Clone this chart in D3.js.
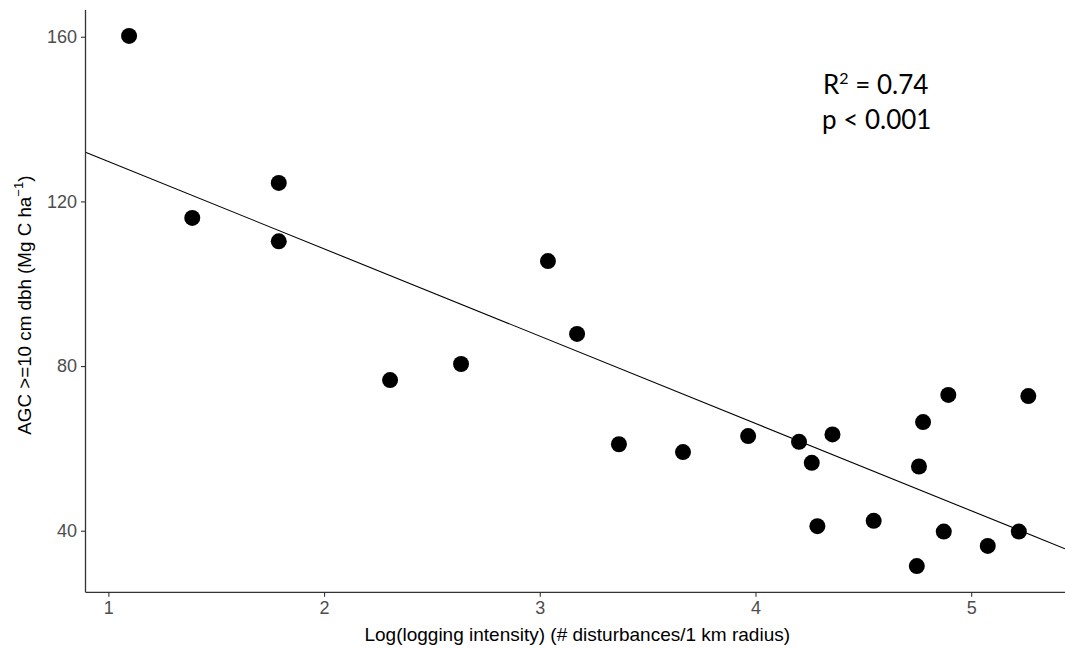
<!DOCTYPE html>
<html><head><meta charset="utf-8">
<script src="https://cdn.jsdelivr.net/npm/d3@7"></script>
<style>body{margin:0;background:#fff}svg{display:block}</style>
</head><body>
<svg id="c" width="1065" height="648"></svg>
<script>
const logIntensity = [1.096,1.389,1.790,1.790,2.306,2.635,3.038,3.173,3.367,3.664,3.966,4.202,4.261,4.287,4.357,4.548,4.748,4.758,4.777,4.873,4.894,5.077,5.221,5.265];
const agc = [160.2,116.0,124.5,110.3,76.6,80.5,105.5,87.8,61.0,59.1,63.0,61.6,56.5,41.1,63.4,42.4,31.4,55.6,66.4,39.8,73.0,36.3,39.8,72.7];
const fitIntercept = [150.9];
const fitSlope = [-21.21];
const xTicks = [1,2,3,4,5];
const yTicks = [40,80,120,160];
const annotation = ["R² = 0.74","p < 0.001"];

const W=1065,H=648, m={l:85.5,t:10,r:0,b:55.7};
const svg=d3.select("#c");
const x=d3.scaleLinear().domain([0.894,5.435]).range([m.l,W-m.r]);
const y=d3.scaleLinear().domain([25.04,166.5]).range([H-m.b,m.t]);

// regression line
const xd=x.domain();
svg.append("line")
 .attr("x1",x(xd[0])).attr("y1",y(fitIntercept[0]+fitSlope[0]*xd[0]))
 .attr("x2",x(xd[1])).attr("y2",y(fitIntercept[0]+fitSlope[0]*xd[1]))
 .attr("stroke","#000").attr("stroke-width",1.1);

// points
svg.append("g").selectAll("circle").data(logIntensity).join("circle")
 .attr("cx",d=>x(d)).attr("cy",(d,i)=>y(agc[i])).attr("r",8).attr("fill","#000");

// axes
const xa=svg.append("g").attr("transform",`translate(0,${H-m.b})`)
 .call(d3.axisBottom(x).tickValues(xTicks).tickSize(4.5).tickPadding(4).tickFormat(d3.format("d")));
const ya=svg.append("g").attr("transform",`translate(${m.l},0)`)
 .call(d3.axisLeft(y).tickValues(yTicks).tickSize(4.5).tickPadding(4).tickFormat(d3.format("d")));
[xa,ya].forEach(a=>{
 a.select(".domain").attr("stroke","#333").attr("stroke-width",1.3);
 a.selectAll(".tick line").attr("stroke","#333").attr("stroke-width",1.1);
 a.selectAll(".tick text").attr("fill","#4D4D4D").style("font-family","'Liberation Sans',Arial,sans-serif").style("font-size","18px");
});
xa.select(".domain").attr("d",`M${m.l},0H${W}`);
ya.select(".domain").attr("d",`M0,${m.t}V${H-m.b}`);

// axis titles
svg.append("text").attr("x",(m.l+W)/2+2).attr("y",641)
 .attr("text-anchor","middle").style("font-family","'Liberation Sans',Arial,sans-serif").style("font-size","19px").attr("fill","#000")
 .text("Log(logging intensity) (# disturbances/1 km radius)");
const yt=svg.append("text").attr("transform",`translate(31,${(m.t+H-m.b)/2+4}) rotate(-90)`)
 .attr("text-anchor","middle").style("font-family","'Liberation Sans',Arial,sans-serif").style("font-size","18.8px").attr("fill","#000");
yt.append("tspan").text("AGC >=10 cm dbh (Mg C ha");
yt.append("tspan").attr("dy",-8).style("font-size","13px").text("−1");
yt.append("tspan").attr("dy",8).text(")");

// annotation
const ann=svg.append("g").style("font-family","Lato,'Open Sans',sans-serif").style("font-size","26px").attr("fill","#000");
const t1=ann.append("text").attr("x",823).attr("y",94);
t1.append("tspan").text("R");
t1.append("tspan").attr("dy",-10).style("font-size","16px").text("2");
t1.append("tspan").attr("dy",10).text(" = 0.74");
ann.append("text").attr("x",822).attr("y",129).text(annotation[1]);
</script>
</body></html>
